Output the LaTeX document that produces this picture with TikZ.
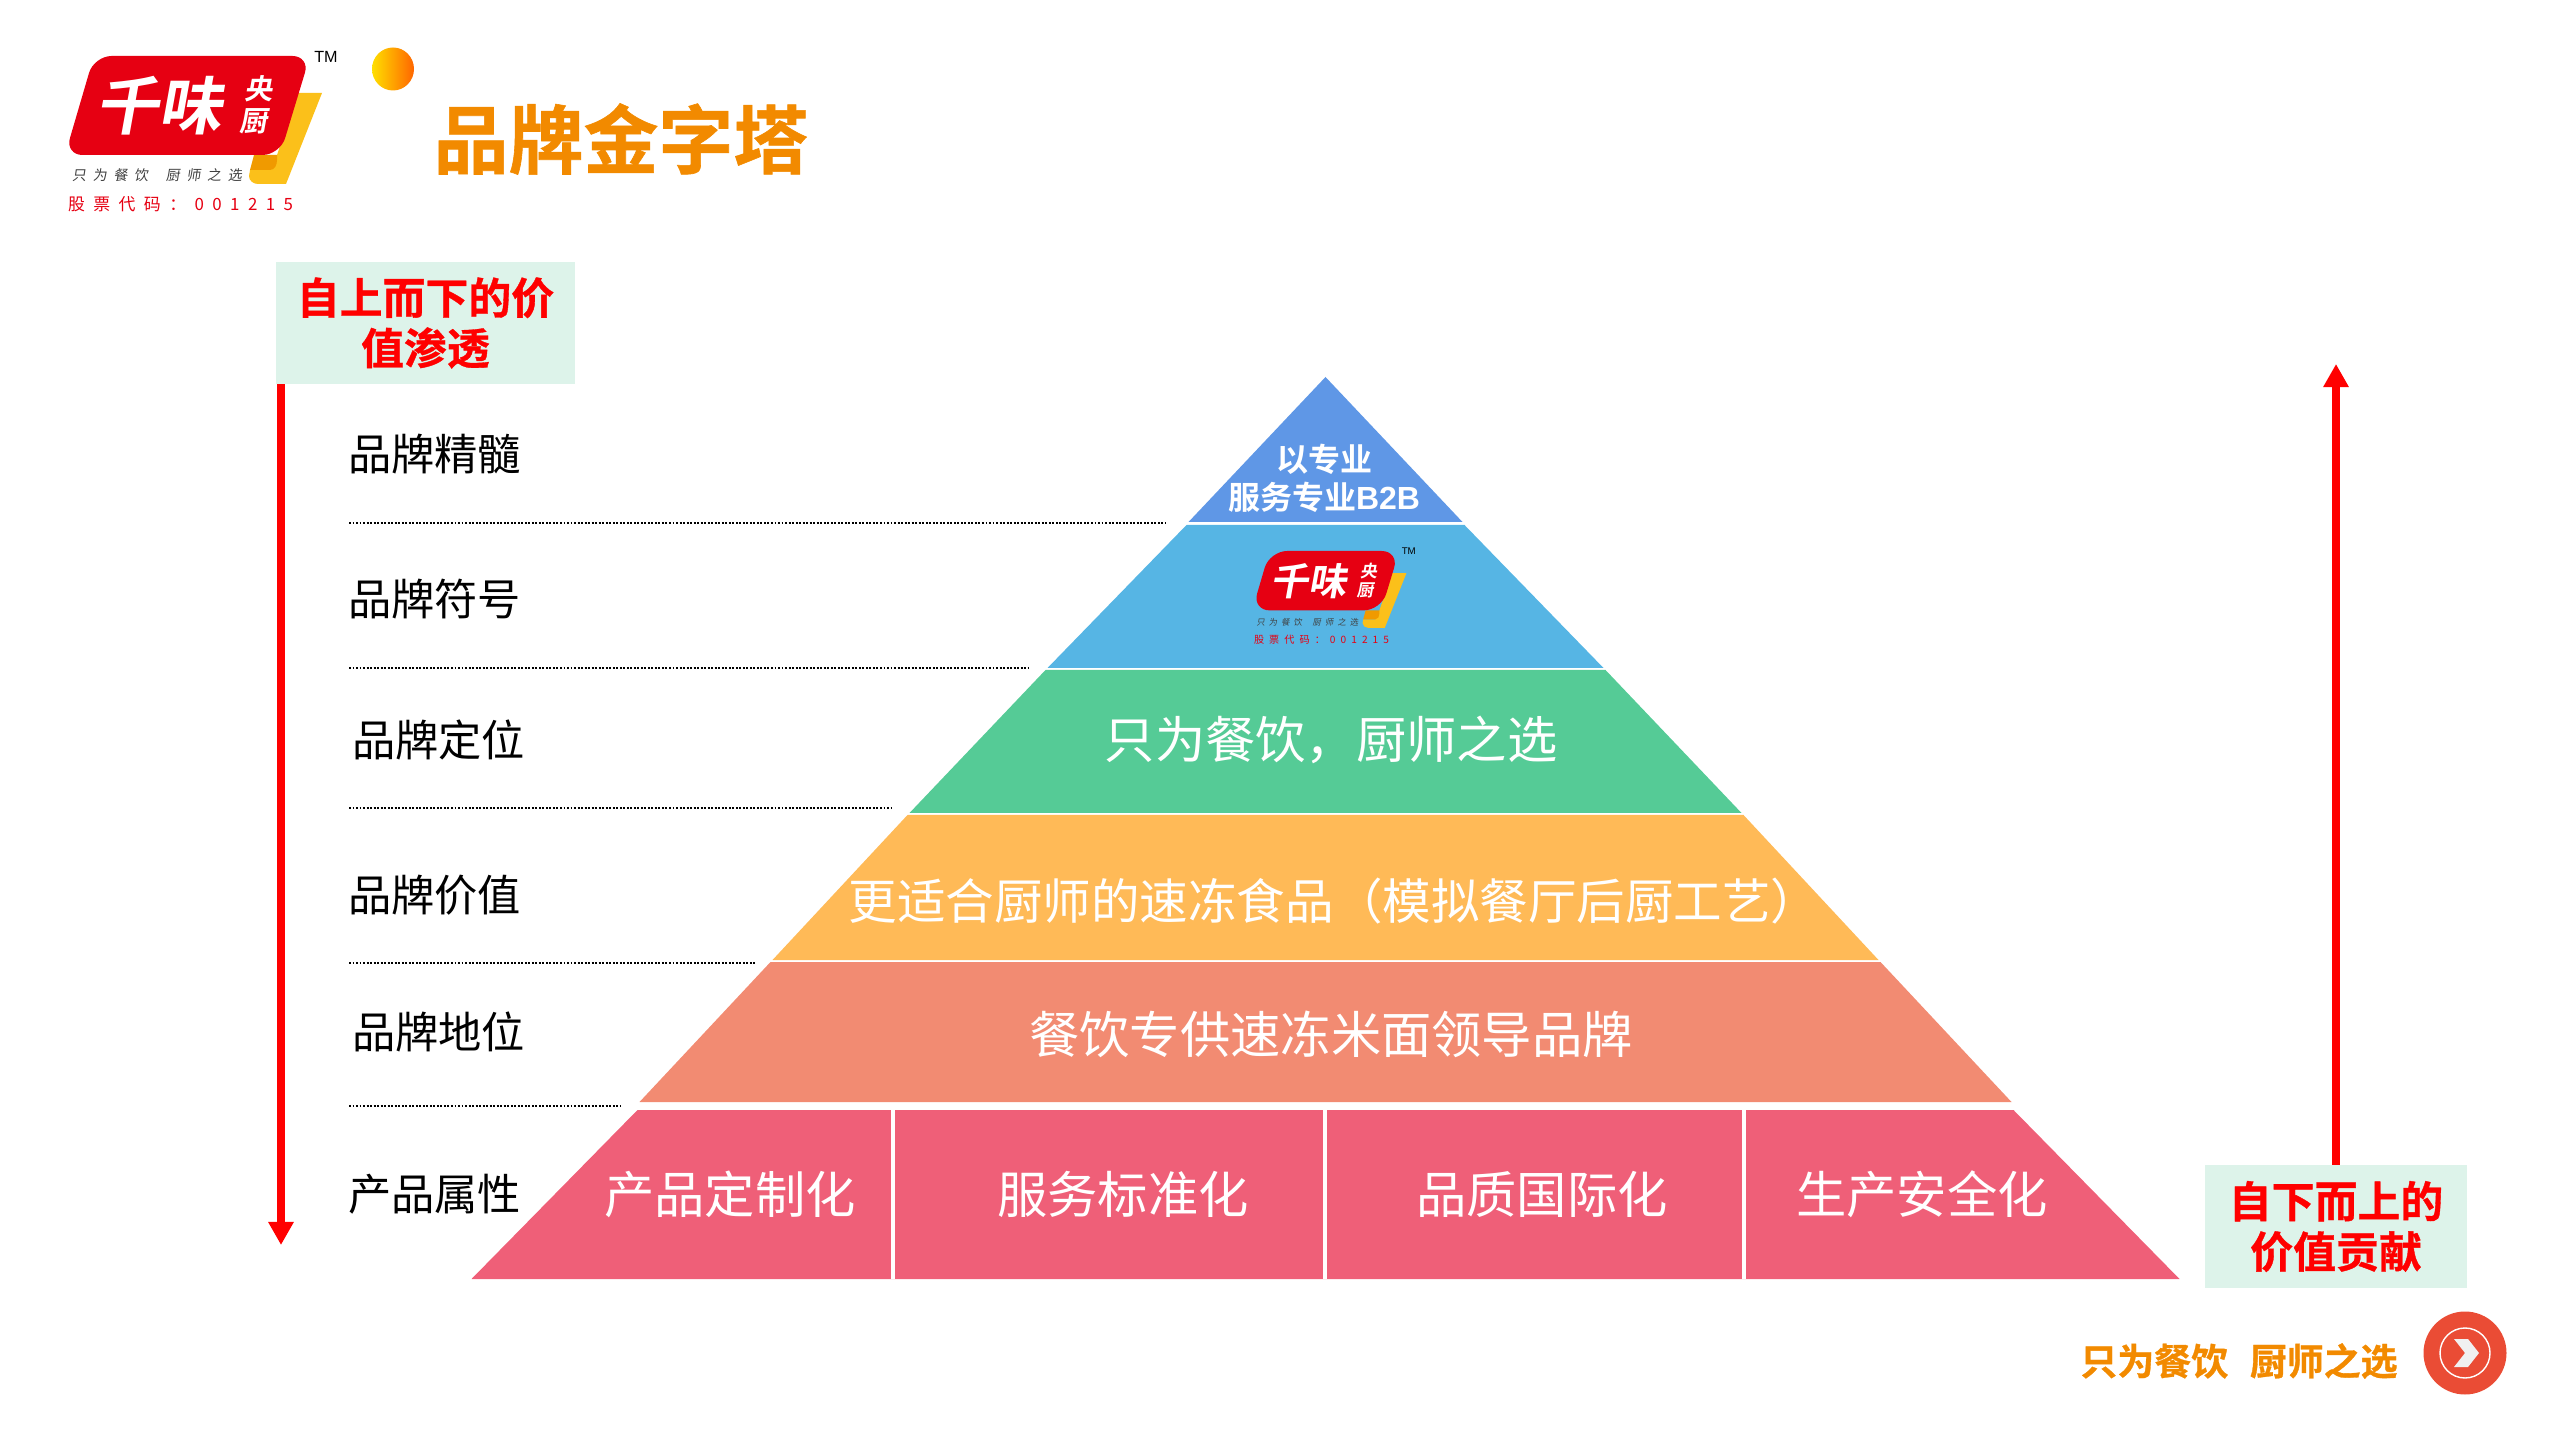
\documentclass[tikz,border=0pt]{standalone}
\usepackage{fontspec}
\setmainfont{Noto Sans CJK SC}[BoldFont={Noto Sans CJK SC Bold}]
\newfontfamily\latinfont{Liberation Sans}
\usetikzlibrary{arrows.meta}
\definecolor{brandorange}{HTML}{F28A00}
\definecolor{brandred}{HTML}{E60012}
\definecolor{brandyellow}{HTML}{FBC01A}
\definecolor{foldorange}{HTML}{F09A00}
\definecolor{notegreen}{HTML}{DDF3EA}
\definecolor{pureRed}{HTML}{FF0000}
\definecolor{nextred}{HTML}{EA4C35}
\definecolor{layerA}{HTML}{5F97E6}
\definecolor{layerB}{HTML}{56B5E4}
\definecolor{layerC}{HTML}{55CB96}
\definecolor{layerD}{HTML}{FFBA57}
\definecolor{layerE}{HTML}{F28B72}
\definecolor{layerF}{HTML}{EF5F78}
\newcommand{\heavy}{\bfseries\addfontfeature{FakeBold=0.8}}
\tikzstyle{plain} = [inner sep = 0pt, outer sep = 0pt]
\tikzstyle{notebox} = [plain, fill = notegreen, align = center, text = pureRed, font = \fontsize{12.2}{14.3}\selectfont\heavy]
\tikzstyle{sidelabel} = [plain, anchor = west, font = \fontsize{12.3}{14}\selectfont]
\tikzstyle{layertext} = [plain, text = white, font = \fontsize{14.3}{17}\selectfont]
\tikzstyle{toptext} = [plain, text = white, align = center, font = \fontsize{9.1}{10.8}\selectfont\bfseries]
\tikzstyle{valuearrow} = [pureRed, line width = 2.3pt, -{Triangle[length = 0.23cm, width = 0.24cm]}]
\tikzstyle{dotrule} = [black, line width = 0.6pt, dash pattern = on 0.55pt off 0.45pt]
\tikzset{
  logomark/.pic = {
    \fill[brandyellow] (230, 37) -- (254, 37) -- (218, 128) -- (190, 128) to[out = 180, in = 270] (181, 120) -- (182, 114) -- (202, 114) -- (209, 99) -- cycle;
    \fill[foldorange] (186, 99) -- (209, 99) -- (209, 104) to[out = 270, in = 0] (202, 114) -- (182, 114) -- cycle;
    \fill[brandred, rounded corners = 5] (26, 0) -- (242, 0) -- (212, 99) -- (-3, 99) -- cycle;
    \node[plain, transform shape, text = white, xslant = 0.18, font = \fontsize{18}{18}\selectfont\bfseries] (-brandname) at (95, 50) {千味};
    \node[plain, transform shape, text = white, xslant = 0.18, align = center, font = \fontsize{8}{9.2}\selectfont\bfseries] (-brandchef) at (190, 49) {央\\厨};
    \node[plain, transform shape, anchor = west, text = black!75, xslant = 0.15, font = \fontsize{4}{4}\selectfont\addfontfeature{LetterSpace = 47}] (-slogan) at (5, 119) {只为餐饮\hspace{5pt}厨师之选};
    \node[plain, transform shape, anchor = west, text = brandred, font = \fontsize{4.8}{5}\selectfont\addfontfeature{LetterSpace = 50}] (-stock) at (0, 148) {股票代码：001215};
    \node[plain, transform shape, text = black, font = \fontsize{4.6}{5}\selectfont\latinfont] (-tm) at (258, 1) {TM};
  }
}

\begin{document}
\begin{tikzpicture}[x = 0.01cm, y = -0.01cm]
  \useasboundingbox (0, 0) rectangle (2560, 1440);
  \pic (headlogo) at (68, 56) {logomark};
  \shade[left color = yellow!75!orange, right color = orange!80!red] (393, 69) ellipse [x radius = 21, y radius = 21.5];
  \node[plain, text = brandorange, font = \fontsize{21.3}{24}\selectfont\heavy] (title) at (621, 139) {品牌金字塔};

  \foreach \ytop/\wtop/\ybot/\wbot/\col in {377/0/522/137/layerA, 525/139/668/278/layerB, 670/280/813/416/layerC, 815/418/960/553/layerD, 962/555/1102/686/layerE, 1110/688/1279/854/layerF} {
    \fill[\col] ({1325.5 - \wtop}, \ytop) -- ({1325.5 + \wtop}, \ytop) -- ({1325.5 + \wbot}, \ybot) -- ({1325.5 - \wbot}, \ybot) -- cycle;
  }
  \foreach \i in {893, 1325, 1744} {
    \draw[white, line width = 1pt] (\i, 1110) -- (\i, 1279);
  }

  \node[toptext] (topvalue) at (1324, 478) {以专业\\服务专业{\latinfont B2B}};
  \pic[scale = 0.6] (midlogo) at (1254, 551) {logomark};
  \node[layertext] (position) at (1331, 740) {只为餐饮，厨师之选};
  \node[layertext, font = \fontsize{13.8}{16}\selectfont] (value) at (1334, 901) {更适合厨师的速冻食品（模拟餐厅后厨工艺）};
  \node[layertext] (status) at (1331, 1034) {餐饮专供速冻米面领导品牌};
  \foreach \i\j\k in {730/custom/产品定制化, 1123/service/服务标准化, 1542/quality/品质国际化, 1922/safety/生产安全化} {
    \node[layertext] (\j) at (\i, 1194) {\k};
  }

  \foreach \i\j\k in {348/454/品牌精髓, 348/599/品牌符号, 352/740/品牌定位, 348/895/品牌价值, 352/1032/品牌地位, 348/1194/产品属性} {
    \node[sidelabel] (side\j) at (\i, \j) {\k};
  }
  \foreach \i\j in {523/1166, 668/1029, 808/893, 963/755, 1106/621} {
    \draw[dotrule] (349, \i) -- (\j, \i);
  }

  \node[notebox, minimum width = 2.99cm, minimum height = 1.22cm] (boxdown) at (425.5, 323) {自上而下的价\\值渗透};
  \node[notebox, minimum width = 2.61cm, minimum height = 1.23cm] (boxup) at (2336, 1226.5) {自下而上的\\价值贡献};
  \coordinate (downtip) at (281, 1245);
  \coordinate (uptip) at (2336, 364);
  \draw[valuearrow] (downtip |- boxdown.south) -- (downtip);
  \draw[valuearrow] (boxup.north) -- (uptip);

  \node[plain, text = brandorange, font = \fontsize{10.5}{12}\selectfont\heavy] (footer) at (2239, 1361) {只为餐饮\hspace{6.2pt}厨师之选};
  \fill[nextred] (2465, 1353) circle [radius = 41.5];
  \draw[white, line width = 0.4pt] (2465, 1353) circle [radius = 25];
  \fill[white!94!black] (2454, 1339) -- (2468, 1339) -- (2479, 1353) -- (2468, 1367) -- (2454, 1367) -- (2465, 1353) -- cycle;
\end{tikzpicture}
\end{document}
